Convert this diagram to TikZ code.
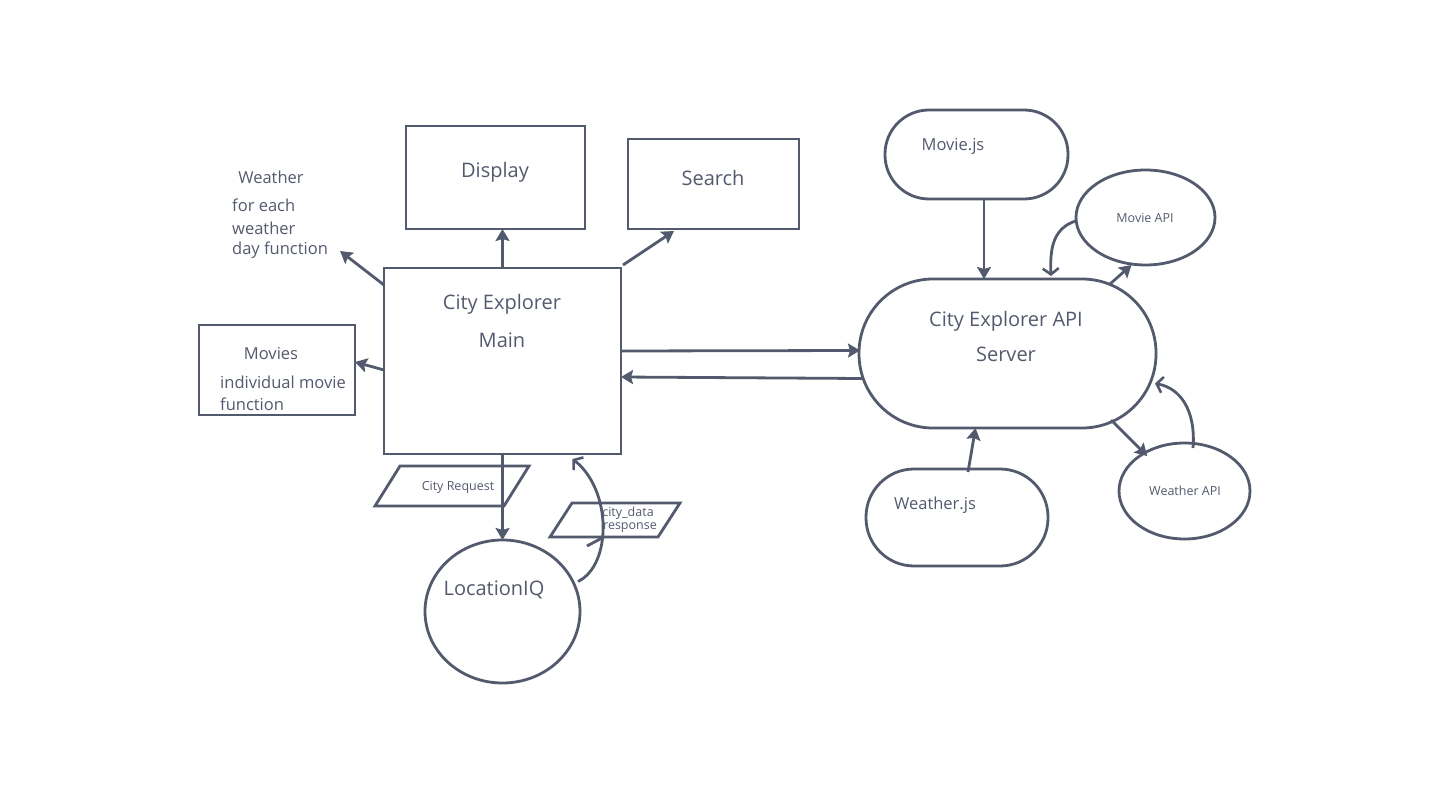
\documentclass[tikz,border=0pt]{standalone}
\usepackage{fontspec}
\setmainfont{Open Sans}
\usetikzlibrary{shapes.geometric,arrows.meta,calc}
\definecolor{ink}{HTML}{545A6E}
\tikzset{
  shp/.style={draw=ink, line width=2.8pt, inner sep=0pt, outer sep=0pt},
  rbox/.style={shp, rectangle, minimum width=#1},
  stad/.style={shp, rectangle, rounded corners=#1},
  oval/.style={shp, ellipse},
  lbl/.style={text=ink, inner sep=0pt, font=\fontsize{#1}{#1}\selectfont},
  lbll/.style={lbl=#1, anchor=west},
  arr/.style={draw=ink, line width=2.8pt, -{Stealth[length=12pt,width=14pt,inset=2pt]}},
  carr/.style={draw=ink, line width=2.8pt, -{Straight Barb[length=6pt,width=16pt,line width=2.6pt]}},
  para/.style={draw=ink, line width=2.8pt, line join=miter}
}
\begin{document}
\begin{tikzpicture}[x=1pt,y=-1pt]
\useasboundingbox[fill=white] (0,0) rectangle (1448,791);
% boxes
\node[rbox=179, minimum height=103] (display) at (495.5,177.5) {};
\node[rbox=171, minimum height=90] (search) at (713.5,184) {};
\node[rbox=237, minimum height=186] (main) at (502.5,361) {};
\node[rbox=156, minimum height=90] (movies) at (277,370) {};
\node[stad=74, minimum width=297, minimum height=149] (server) at (1007.5,353.5) {};
\node[stad=44, minimum width=183, minimum height=89] (moviejs) at (976.5,154.5) {};
\node[stad=48, minimum width=182, minimum height=97] (weatherjs) at (957,517.5) {};
\node[oval, minimum width=139, minimum height=95] (movieapi) at (1145.5,217.5) {};
\node[oval, minimum width=131, minimum height=96] (weatherapi) at (1184.5,491) {};
\node[oval, minimum width=155, minimum height=143] (loc) at (502.5,611.5) {};
% parallelograms
\draw[para] (375,506) -- (400,466) -- (529,466) -- (504,506) -- cycle;
\draw[para] (550,537) -- (572,503) -- (680,503) -- (658,537) -- cycle;
% labels
\node[lbl=20] at (495,172) {Display};
\node[lbl=20] at (713,178) {Search};
\node[lbl=20] at (502,304) {City Explorer};
\node[lbl=20] at (502,340) {Main};
\node[lbl=16.5] at (271,354) {Movies};
\node[lbll=16.5] at (220,382) {individual movie};
\node[lbll=16.5] at (220,404) {function};
\node[lbl=16.5] (wtitle) at (271,177) {Weather};
\node[lbll=16.5] at (232,205) {for each};
\node[lbll=16.5] at (232,228) {weather};
\node[lbll=16.5] (wday) at (232,250) {day function};
\node[lbl=20] at (494,590) {LocationIQ};
\node[lbl=12.5] (creq) at (458,487) {City Request};
\node[lbl=12.5] at (628,513) {city\_data};
\node[lbl=12.5] at (630,528) {response};
\node[lbl=20] at (1006,321) {City Explorer API};
\node[lbl=20] at (1006,354) {Server};
\node[lbl=16.5] at (953,146) {Movie.js};
\node[lbl=12.5] at (1145,218) {Movie API};
\node[lbl=16.5] at (935,505) {Weather.js};
\node[lbl=12.5] at (1185,491) {Weather API};
% connectors
\draw[arr] (main.north) -- (main.north |- display.south);
\draw[arr] ($(main.north east)+(2,-3)$) -- ($(search.south west)+(46,2)$);
\draw[arr] ($(main.north west)+(0,17)$) -- ($(wday.east)+(12,1)$);
\draw[arr] ($(main.west)+(0,9)$) -- ($(movies.east)+(0,-8)$);
\draw[arr] (main.south) -- (loc.north);
\draw[arr] ($(main.east)+(0,-10)$) -- ($(server.west)+(1,-3)$);
\draw[arr] ($(server.west)+(3,25)$) -- ($(main.east)+(0,16)$);
\draw[arr] ($(moviejs.south)+(7.5,0)$) -- ($(server.north)+(-23.5,0)$);
\draw[arr] ($(server.north east)+(-46,5)$) -- ($(movieapi.south)+(-14,0)$);
\draw[arr] ($(weatherjs.north)+(11,3)$) -- ($(server.south)+(-32,0)$);
\draw[arr] ($(server.south east)+(-45,-8)$) -- ($(weatherapi.north west)+(9,-1)$);
\draw[carr] ($(movieapi.west)+(1,3)$) .. controls (1052,228) and (1050,250) .. ($(server.north)+(43.5,-3)$);
\draw[carr] ($(weatherapi.north)+(8.5,5)$) .. controls (1196,410) and (1180,388) .. ($(server.east)+(-1,30)$);
\draw[carr] ($(loc.east)+(-2,-30)$) .. controls (612,565) and (612,490) .. ($(main.south)+(70,5)$);
\draw[draw=ink, line width=2.8pt] (587,546) -- (602,538);
\end{tikzpicture}
\end{document}
